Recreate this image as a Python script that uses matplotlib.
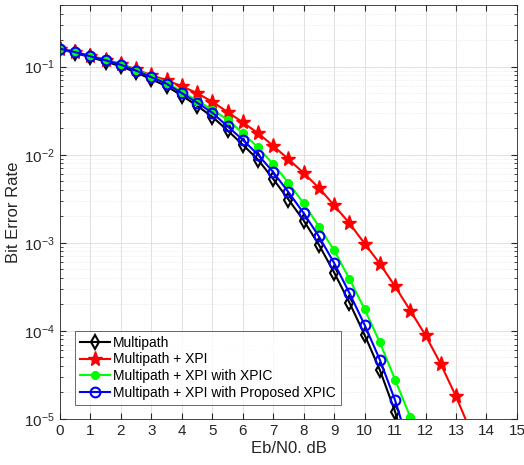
import matplotlib
matplotlib.use("Agg")
import matplotlib.pyplot as plt
import numpy as np
from matplotlib.ticker import LogLocator, NullFormatter, FixedLocator

plt.rcParams['font.family'] = ['Liberation Sans', 'DejaVu Sans']

ebn0 = np.arange(0, 14.0, 0.5)

ber_multipath = [0.158, 0.143, 0.128, 0.114, 0.101, 0.086, 0.072, 0.060, 0.047,
                 0.036, 0.027, 0.0189, 0.013, 0.0088, 0.0053, 0.0031, 0.00179,
                 9.5e-4, 4.6e-4, 2.1e-4, 9.0e-5, 3.6e-5, 1.21e-5, 3.2e-6]
ber_xpi = [0.160, 0.147, 0.133, 0.120, 0.107, 0.093, 0.080, 0.070, 0.060, 0.050,
           0.040, 0.0306, 0.0233, 0.0176, 0.0126, 0.0089, 0.0062, 0.0042,
           0.00266, 0.00167, 9.8e-4, 5.8e-4, 3.2e-4, 1.7e-4, 8.9e-5, 4.2e-5,
           1.8e-5, 7e-6]
ber_xpic = [0.160, 0.146, 0.132, 0.119, 0.106, 0.092, 0.078, 0.066, 0.052, 0.041,
            0.0325, 0.025, 0.0176, 0.0121, 0.0078, 0.0048, 0.0028, 0.00153,
            8.2e-4, 3.9e-4, 1.76e-4, 7.4e-5, 2.8e-5, 1.05e-5, 3.5e-6]
ber_prop = [0.160, 0.146, 0.131, 0.118, 0.105, 0.090, 0.076, 0.064, 0.050, 0.039,
            0.030, 0.021, 0.0148, 0.010, 0.00635, 0.00376, 0.00217, 0.00118,
            5.9e-4, 2.7e-4, 1.17e-4, 4.7e-5, 1.63e-5, 4.5e-6]

labels = ['Multipath', 'Multipath + XPI', 'Multipath + XPI with XPIC',
          'Multipath + XPI with Proposed XPIC']
xticks = list(range(0, 16))

fig = plt.figure(figsize=(5.24, 4.65), dpi=100)
ax = fig.add_axes([0.1145, 0.099, 0.872, 0.890])

ax.semilogy(ebn0[:len(ber_multipath)], ber_multipath, '-', color='black', lw=1.5,
            marker='d', ms=7, mfc='none', mec='black', mew=1.5, label=labels[0])
ax.semilogy(ebn0[:len(ber_xpi)], ber_xpi, '-', color='red', lw=1.5,
            marker='*', ms=11, mfc='red', mec='red', label=labels[1])
ax.semilogy(ebn0[:len(ber_xpic)], ber_xpic, '-', color='#00ff00', lw=1.5,
            marker=(8, 2, 0), ms=6, mec='#00ff00', mew=2.2, label=labels[2])
ax.semilogy(ebn0[:len(ber_prop)], ber_prop, '-', color='blue', lw=1.5,
            marker='o', ms=7, mfc='none', mec='blue', mew=1.5, label=labels[3])

ax.set_xlim(0, 15)
ax.set_ylim(1e-5, 0.5)
ax.xaxis.set_major_locator(FixedLocator(xticks))
ax.set_xticklabels([str(t) for t in xticks])
ax.yaxis.set_major_locator(LogLocator(base=10, numticks=10))
ax.yaxis.set_minor_locator(LogLocator(base=10, subs=np.arange(2, 10), numticks=10))
ax.yaxis.set_minor_formatter(NullFormatter())

ax.grid(True, which='major', color='#dcdcdc', lw=0.6, ls='-')
ax.grid(True, which='minor', axis='y', color='#e6e6e6', lw=0.6, ls=':')
ax.set_axisbelow(True)

for s in ax.spines.values():
    s.set_color('#262626')
    s.set_linewidth(0.6)
ax.tick_params(which='both', direction='in', top=True, right=True, colors='#262626',
               labelsize=11)
ax.tick_params(which='major', length=4)
ax.tick_params(which='minor', length=2)

ax.set_xlabel('Eb/N0. dB', fontsize=12, color='#262626', labelpad=2)
ax.set_ylabel('Bit Error Rate', fontsize=12, color='#262626', labelpad=2)

leg = ax.legend(loc='lower left', bbox_to_anchor=(0.033, 0.034), fontsize=10,
                frameon=True, fancybox=False, edgecolor='#262626', borderpad=0.35,
                handlelength=2.2, handletextpad=0.2, labelspacing=0.2,
                borderaxespad=0)
leg.get_frame().set_linewidth(0.6)

fig.savefig('out.png', dpi=100)
